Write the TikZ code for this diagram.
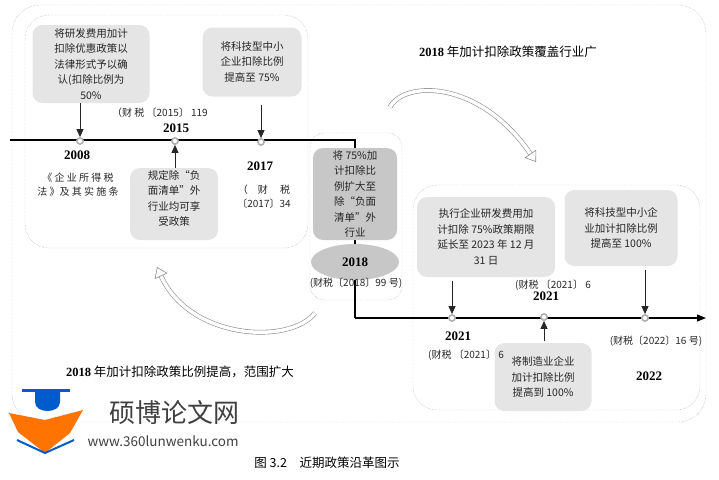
\documentclass[tikz,border=0pt]{standalone}
\usepackage{fontspec}
\setmainfont{Noto Sans CJK SC}
\newfontfamily\yr{Liberation Serif}
\usetikzlibrary{arrows.meta,shapes.geometric}
\tikzset{
  x=1pt, y=-1pt,
  note/.style={fill=black!10, rounded corners=10pt, align=center, inner sep=2pt, font=\fontsize{10.5}{15.5}\selectfont, text=black!85},
  dotbox/.style={draw=black!40, densely dotted, rounded corners=28pt},
  dot/.style={circle, draw=black!30, fill=white, line width=1.6pt, inner sep=2.2pt},
  tick/.style={-{Triangle[length=8pt,width=7pt]}, black!85, thick},
  year/.style={font=\yr\bfseries\fontsize{13}{13}\selectfont},
  small/.style={font=\fontsize{10}{14}\selectfont, text=black!85, align=center},
  hollow/.style={draw=black!45, double=white, double distance=3.5pt, line width=0.6pt, -{Triangle[open,length=10pt,width=14pt]}}
}
\begin{document}
\begin{tikzpicture}
			%%%%% START %%%%%
			\useasboundingbox (0,0) rectangle (719,479);
			
			\draw[dotbox] (12,5) rectangle (706,422);
			\draw[dotbox, rounded corners=24pt] (25,15) rectangle (308,248);
			\draw[dotbox, rounded corners=14pt] (310,133) rectangle (402,300);
			\draw[dotbox, rounded corners=24pt] (413,185) rectangle (700,410);
			
			% timelines
			\coordinate (s) at (10,140);
			\coordinate (k1) at (355,140);
			\coordinate (k2) at (355,318);
			\coordinate (e) at (706,318);
			\draw[line width=1.2pt] (s) -- (k1) -- (k2);
			\draw[line width=1.2pt, -{Triangle[length=9pt,width=7pt]}] (k2) -- (e);
			
			\node[dot] (d08) at (80,141) {};
			\node[dot] (d15) at (175,141) {};
			\node[dot] (d17) at (261,142) {};
			\node[dot] (d21a) at (452,318) {};
			\node[dot] (d21b) at (544,317) {};
			\node[dot] (d22) at (645,318) {};
			
			% boxes
			\node[note, minimum width=117pt, minimum height=78pt] (n08) at (91,64) {将研发费用加计\\扣除优惠政策以\\法律形式予以确\\认(扣除比例为\\50\%};
			\node[note, minimum width=99pt, minimum height=69pt] (n17) at (252,62) {将科技型中小\\企业扣除比例\\提高至 75\%};
			\node[note, minimum width=88pt, minimum height=72pt, text height=44pt] (n15) at (174,204) {规定除“负\\面清单”外\\行业均可享\\受政策};
			\node[note, fill=black!22, minimum width=84pt, minimum height=92pt] (n18) at (355,194) {将 75\%加\\计扣除比\\例扩大至\\除“负面\\清单”外\\行业};
			\node[ellipse, fill=black!22, minimum width=88pt, minimum height=36pt, year] (e18) at (355,262) {2018};
			\node[note, minimum width=138pt, minimum height=80pt] (n21a) at (486,237) {执行企业研发费用加\\计扣除 75\%政策期限\\延长至 2023 年 12 月\\31 日};
			\node[note, minimum width=113pt, minimum height=76pt] (n22) at (621,228) {将科技型中小企\\业加计扣除比例\\提高至 100\%};
			\node[note, minimum width=97pt, minimum height=68pt] (n21b) at (543,377) {将制造业企业\\加计扣除比例\\提高到 100\%};
			
			% arrows
			\draw[tick] (n08.south -| d08) -- (d08.north);
			\draw[tick] (n17.south -| d17) ++(0,8) -- (d17.north);
			\draw[tick] (n15.north -| d15) -- (d15.south);
			\draw[tick] (n21a.south -| d21a) ++(0,4) -- (d21a.north);
			\draw[tick] (n21b.north -| d21b) ++(0,-2) -- (d21b.south);
			\draw[tick] (n22.south -| d22) ++(0,4) -- (d22.north);
			
			% labels
			\node[small] (c15) at (160,113) {（财 税 〔2015〕 119};
			\node[year] (y15) at (176,128) {2015};
			\node[year] (y08) at (77,155) {2008};
			\node[small] (c08) at (78,185) {《 企 业 所 得 税\\法 》及 其 实 施 条};
			\node[year] (y17) at (260,166) {2017};
			\node[small] (c17) at (264,197) {（\quad 财\quad\ 税\\〔2017〕34};
			\node[small] (c18) at (356,283) {(财税〔2018〕99 号)};
			\node[year] (y21a) at (458,336) {2021};
			\node[small] (c21a) at (466,355) {(财税 〔2021〕 6};
			\node[small] (c21b) at (553,285) {(财税 〔2021〕 6};
			\node[year] (y21b) at (546,296) {2021};
			\node[small] (c22) at (656,341) {(财税〔2022〕16 号)};
			\node[year] (y22) at (649,376) {2022};
			
			\node[font=\fontsize{12.5}{12.5}\selectfont] (t1) at (508,52) {{\yr\bfseries 2018} 年加计扣除政策覆盖行业广};
			\node[font=\fontsize{12.5}{12.5}\selectfont] (t2) at (180,372) {{\yr\bfseries 2018} 年加计扣除政策比例提高，范围扩大};
			
			% hollow arrows
			\draw[hollow] (390,107) .. controls (405,80) and (480,80) .. (536,162);
			\draw[hollow] (315,313) .. controls (290,345) and (190,340) .. (157,267);
			
			% logo
			\fill[blue!55!cyan!80!black] (22,389) rectangle (70,392);
			\fill[blue!55!cyan!80!black] (35,392) -- (35,402) .. controls (35,414) and (60,414) .. (60,402) -- (60,392) -- cycle;
			\fill[orange!90!red] (9,413) -- (45,420) -- (83,410) -- (70,433) -- (45,453) -- (18,432) -- cycle;
			\draw[blue!55!cyan!80!black, line width=2pt] (17,440) -- (45,453) -- (74,440);
			\node[font=\fontsize{26}{26}\selectfont, text=black!75] (logo) at (174,413) {硕博论文网};
			\node[font=\fontsize{13.5}{13.5}\selectfont, text=black!75, anchor=west] (url) at (84,441) {www.360lunwenku.com};
			
			\node[font=\fontsize{12.5}{12.5}\selectfont] (cap) at (327,463) {图 3.2\quad 近期政策沿革图示};
			%%%%% END %%%%%
\end{tikzpicture}
\end{document}
